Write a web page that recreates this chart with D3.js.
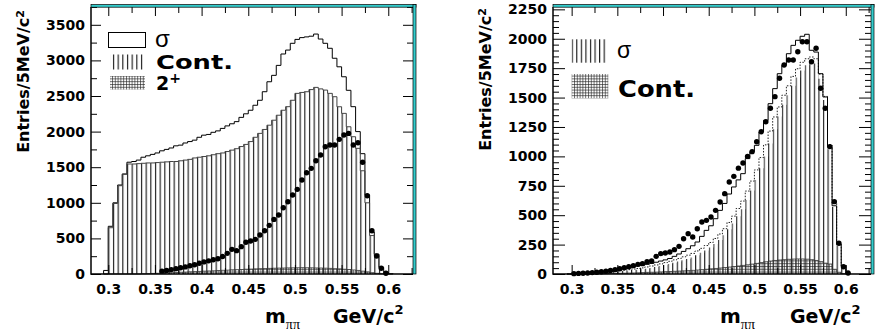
<!DOCTYPE html>
<html>
<head>
<meta charset="utf-8">
<script src="https://cdn.jsdelivr.net/npm/d3@7"></script>
<style>
  body { margin: 0; background: #fff; }
  svg { display: block; }
</style>
</head>
<body>
<div id="chart"></div>
<script>
// lower bin edges, MeV/c^2 (5 MeV bins)
const bins = [295, 300, 305, 310, 315, 320, 325, 330, 335, 340,
              345, 350, 355, 360, 365, 370, 375, 380, 385, 390,
              395, 400, 405, 410, 415, 420, 425, 430, 435, 440,
              445, 450, 455, 460, 465, 470, 475, 480, 485, 490,
              495, 500, 505, 510, 515, 520, 525, 530, 535, 540,
              545, 550, 555, 560, 565, 570, 575, 580, 585, 590,
              595, 600];

// left plot
const leftTotal = [50, 670, 1000, 1250, 1405, 1570, 1580, 1600, 1640, 1660,
                   1680, 1700, 1730, 1750, 1770, 1800, 1810, 1840, 1860, 1880,
                   1920, 1950, 1960, 1990, 2010, 2045, 2080, 2110, 2140, 2200,
                   2250, 2300, 2370, 2440, 2560, 2700, 2790, 2930, 3090, 3145,
                   3240, 3295, 3320, 3330, 3340, 3370, 3300, 3240, 3170, 3030,
                   2910, 2770, 2580, 2350, 2000, 1690, 1110, 590, 280, 95,
                   25, 5];
const leftCont = [0, 650, 990, 1240, 1400, 1545, 1545, 1550, 1555, 1560,
                  1560, 1565, 1570, 1575, 1580, 1580, 1590, 1600, 1610, 1630,
                  1640, 1650, 1660, 1675, 1690, 1700, 1720, 1740, 1760, 1790,
                  1820, 1860, 1920, 1975, 2030, 2090, 2160, 2230, 2300, 2350,
                  2440, 2537, 2550, 2560, 2590, 2621, 2600, 2583, 2537, 2490,
                  2349, 2256, 2068, 1928, 1765, 1450, 1000, 540, 260, 90,
                  20, 5];
const left2p = [0, 0, 0, 0, 0, 0, 0, 0, 3, 5,
                8, 10, 12, 16, 18, 22, 25, 27, 31, 34,
                36, 40, 43, 45, 49, 52, 54, 58, 61, 63,
                67, 69, 72, 75, 76, 79, 81, 83, 84, 86,
                87, 88, 89, 88, 87, 85, 84, 82, 79, 75,
                72, 67, 63, 57, 50, 40, 30, 18, 10, 4,
                1, 0];
const leftData = [null, null, null, null, null, null, null, null, null, null,
                  null, null, 40, 50, 62, 75, 88, 100, 115, 130,
                  150, 170, 185, 200, 215, 245, 290, 346, 328, 384,
                  445, 463, 487, 548, 608, 683, 767, 828, 931, 1015,
                  1109, 1189, 1320, 1423, 1484, 1590, 1671, 1788, 1811, 1811,
                  1891, 1952, 1975, 1811, 1844, 1570, 1100, 608, 253, 80,
                  10, null];

// right plot
const rightTotal = [0, 5, 8, 10, 12, 15, 18, 22, 26, 30,
                    35, 40, 47, 54, 60, 68, 75, 82, 90, 100,
                    110, 120, 132, 150, 170, 192, 215, 240, 272, 320,
                    371, 410, 470, 541, 600, 680, 740, 800, 853, 981,
                    1040, 1094, 1207, 1306, 1448, 1576, 1703, 1774, 1873, 1944,
                    1987, 2021, 2038, 1902, 1887, 1703, 1505, 1080, 580, 250,
                    70, 10];
const rightSigma = [0, 2, 3, 5, 6, 8, 10, 12, 15, 17,
                    20, 22, 26, 29, 33, 36, 40, 45, 52, 60,
                    68, 77, 86, 96, 106, 116, 127, 140, 160, 180,
                    200, 225, 255, 290, 330, 380, 430, 490, 550, 630,
                    710, 800, 900, 1000, 1110, 1230, 1340, 1440, 1520, 1600,
                    1670, 1730, 1775, 1800, 1790, 1660, 1480, 1060, 570, 240,
                    60, 8];
const rightDotted = [0, 2, 4, 6, 8, 10, 12, 15, 18, 21,
                     25, 28, 32, 37, 42, 47, 52, 60, 68, 77,
                     86, 97, 108, 120, 132, 146, 160, 175, 196, 218,
                     242, 268, 302, 340, 385, 438, 492, 557, 620, 705,
                     790, 885, 990, 1098, 1215, 1335, 1420, 1520, 1600, 1680,
                     1745, 1800, 1830, 1845, 1830, 1700, 1510, 1100, 600, 255,
                     64, 8];
const rightCont = [0, 0, 0, 0, 0, 0, 1, 2, 3, 4,
                   5, 6, 7, 8, 9, 10, 12, 14, 15, 16,
                   18, 20, 21, 23, 25, 27, 29, 31, 34, 37,
                   40, 44, 47, 51, 55, 59, 63, 68, 73, 78,
                   84, 90, 97, 104, 110, 115, 119, 122, 125, 127,
                   128, 128, 126, 122, 115, 105, 92, 85, 40, 15,
                   3, 0];
const rightData = [null, 3, 5, 7, 9, 12, 15, 19, 24, 30,
                   37, 45, 54, 62, 71, 82, 88, 105, 110, 150,
                   173, 179, 187, 207, 235, 300, 343, 315, 385, 442,
                   456, 485, 541, 612, 683, 782, 830, 900, 944, 1000,
                   1040, 1125, 1210, 1295, 1409, 1508, 1664, 1777, 1819, 1819,
                   1890, 1975, 1975, 1805, 1919, 1579, 1409, 1083, 615, 261,
                   62, 8];

const xTicks = [0.3, 0.35, 0.4, 0.45, 0.5, 0.55, 0.6];
const xTickLabels = ["0.3", "0.35", "0.4", "0.45", "0.5", "0.55", "0.6"];
const xMinor = [0.325, 0.375, 0.425, 0.475, 0.525, 0.575, 0.625];
const leftYTicks = [0, 500, 1000, 1500, 2000, 2500, 3000, 3500];
const leftYMinor = [250, 750, 1250, 1750, 2250, 2750, 3250, 3750];
const rightYTicks = [0, 250, 500, 750, 1000, 1250, 1500, 1750, 2000, 2250];
const rightYMinor = d3.range(50, 2270, 50).filter(v => v % 250 !== 0);

const W = 876, H = 333;
const yTop = 7, yBot = 274;
const binW = 0.005;

const svg = d3.select("#chart").append("svg").attr("width", W).attr("height", H)
  .attr("font-family", "DejaVu Sans, sans-serif").attr("font-weight", "bold").attr("fill", "#000");
const defs = svg.append("defs");

function drawPanel(p) {
  const x = d3.scaleLinear().domain(p.xDomain).range([p.x0, p.x1]);
  const y = d3.scaleLinear().domain(p.yDomain).range([yBot, yTop]);
  const g = svg.append("g");

  // hatch patterns, aligned with the bins
  const step = x(0.305) - x(0.3);
  const vh = defs.append("pattern").attr("id", p.id + "vh")
    .attr("patternUnits", "userSpaceOnUse")
    .attr("x", x(0.3)).attr("y", 0).attr("width", step).attr("height", 10);
  vh.append("line").attr("x1", 0.6).attr("x2", 0.6).attr("y1", 0).attr("y2", 10)
    .attr("stroke", "#111").attr("stroke-width", 1.1);
  const xh = defs.append("pattern").attr("id", p.id + "xh")
    .attr("patternUnits", "userSpaceOnUse")
    .attr("x", 0).attr("y", 0).attr("width", 2.8).attr("height", 2.8);
  xh.append("path").attr("d", "M0.5,0V2.8M0,0.5H2.8")
    .attr("stroke", "#222").attr("stroke-width", 0.65).attr("fill", "none");

  const pts = vals => {
    const a = vals.map((v, i) => [bins[i] / 1000, v]);
    a.push([bins[bins.length - 1] / 1000 + binW, vals[vals.length - 1]]);
    return a;
  };
  const outline = vals => {
    const a = pts(vals);
    return [[a[0][0], 0], ...a, [a[a.length - 1][0], 0]];
  };
  const line = d3.line().x(d => x(d[0])).y(d => y(d[1])).curve(d3.curveStepAfter);
  const area = d3.area().x(d => x(d[0])).y0(y(0)).y1(d => y(d[1])).curve(d3.curveStepAfter);

  const hist = (vals, fill, stroke, dash, sw) => {
    if (fill) g.append("path").attr("d", area(pts(vals))).attr("fill", fill);
    if (stroke) g.append("path").attr("d", line(outline(vals)))
      .attr("fill", "none").attr("stroke", stroke).attr("stroke-width", sw || 1)
      .attr("stroke-dasharray", dash || null);
  };
  p.draw(hist, "url(#" + p.id + "vh)", "url(#" + p.id + "xh)");

  // data points
  g.append("g").selectAll("circle")
    .data(p.points.map((v, i) => [bins[i] / 1000 + binW / 2, v]).filter(d => d[1] !== null))
    .join("circle")
    .attr("cx", d => x(d[0])).attr("cy", d => y(d[1])).attr("r", 2.7).attr("fill", "#000");

  // axes (ticks inside, mirrored)
  const styleAxis = sel => {
    sel.select(".domain").remove();
    sel.selectAll("line").attr("stroke", "#000");
    sel.attr("font-family", "DejaVu Sans, sans-serif").attr("font-size", 14).attr("font-weight", "bold");
  };
  g.append("g").attr("transform", `translate(${p.x0},0)`)
    .call(d3.axisLeft(y).tickValues(p.yTicks).tickSize(-p.yMajorLen).tickPadding(6).tickFormat(d3.format("d")))
    .call(styleAxis);
  g.append("g").attr("transform", `translate(${p.x0},0)`)
    .call(d3.axisLeft(y).tickValues(p.yMinor).tickSize(-6).tickFormat(""))
    .call(styleAxis);
  g.append("g").attr("transform", `translate(${p.x1},0)`)
    .call(d3.axisRight(y).tickValues(p.yTicks).tickSize(-p.yMajorLen).tickFormat(""))
    .call(styleAxis);
  g.append("g").attr("transform", `translate(${p.x1},0)`)
    .call(d3.axisRight(y).tickValues(p.yMinor).tickSize(-6).tickFormat(""))
    .call(styleAxis);
  g.append("g").attr("transform", `translate(0,${yBot})`)
    .call(d3.axisBottom(x).tickValues(xTicks).tickSize(-9).tickPadding(10).tickFormat((d, i) => xTickLabels[i]))
    .call(styleAxis);
  g.append("g").attr("transform", `translate(0,${yBot})`)
    .call(d3.axisBottom(x).tickValues(xMinor.filter(v => v < p.xDomain[1])).tickSize(-6).tickFormat(""))
    .call(styleAxis);
  g.append("g").attr("transform", `translate(0,${yTop})`)
    .call(d3.axisTop(x).tickValues(xTicks).tickSize(-9).tickFormat(""))
    .call(styleAxis);
  g.append("g").attr("transform", `translate(0,${yTop})`)
    .call(d3.axisTop(x).tickValues(xMinor.filter(v => v < p.xDomain[1])).tickSize(-6).tickFormat(""))
    .call(styleAxis);

  // frame: black left/bottom, cyan bevel top/right
  g.append("path").attr("d", `M${p.x0},${yTop}V${yBot}H${p.x1}`)
    .attr("fill", "none").attr("stroke", "#000").attr("stroke-width", 1.5);
  g.append("rect").attr("x", p.x0).attr("y", 4.6).attr("width", p.x1 - p.x0 + 3).attr("height", 2.6)
    .attr("fill", "#33cccc").attr("stroke", "#000").attr("stroke-width", 0.7);
  g.append("rect").attr("x", p.x1).attr("y", 4.6).attr("width", 3).attr("height", yBot - 4.6)
    .attr("fill", "#33cccc").attr("stroke", "#000").attr("stroke-width", 0.7);

  // y title
  const yt = g.append("text").attr("transform", `translate(${p.yTitleX},${p.yTitleEnd}) rotate(-90)`)
    .attr("text-anchor", "end").attr("font-size", 16);
  yt.append("tspan").text("Entries/5MeV/c");
  yt.append("tspan").attr("dy", "-0.45em").attr("font-size", 11).text("2");

  // x title
  const xt = g.append("text").attr("x", p.mX).attr("y", 323).attr("font-size", 20);
  xt.append("tspan").text("m");
  xt.append("tspan").attr("dy", 6).attr("font-size", 14).attr("font-weight", "normal")
    .attr("font-family", "Liberation Serif, serif").text("ππ");
  const gt = g.append("text").attr("x", p.gevX).attr("y", 323).attr("font-size", 19);
  gt.append("tspan").text("GeV/c");
  gt.append("tspan").attr("dy", -9).attr("font-size", 13).text("2");

  // legend
  p.legend(g);
}

drawPanel({
  id: "L", x0: 91, x1: 413, xDomain: [0.2815, 0.6265], yDomain: [0, 3750],
  yTicks: leftYTicks, yMinor: leftYMinor, yMajorLen: 10,
  points: leftData, yTitleX: 28.5, yTitleEnd: 10, mX: 265, gevX: 333,
  draw: (hist, vh, xh) => {
    hist(leftTotal, null, "#000", null, 1);
    hist(leftCont, vh, "#444", null, 1);
    hist(left2p, xh, "#333", null, 0.8);
  },
  legend: g => {
    g.append("rect").attr("x", 108.5).attr("y", 32.5).attr("width", 37).attr("height", 15)
      .attr("fill", "#fff").attr("stroke", "#000").attr("stroke-width", 1);
    g.append("rect").attr("x", 110).attr("y", 54.5).attr("width", 34).attr("height", 15).attr("fill", "url(#Lvh)");
    g.append("rect").attr("x", 110).attr("y", 76).attr("width", 35).attr("height", 13.5).attr("fill", "url(#Lxh)");
    g.append("text").attr("x", 155).attr("y", 46.5).attr("font-size", 24).attr("font-weight", "normal")
      .attr("font-family", "Liberation Sans, sans-serif").text("σ");
    g.append("text").attr("x", 156).attr("y", 69).attr("font-size", 20)
      .attr("textLength", 77).attr("lengthAdjust", "spacingAndGlyphs").text("Cont.");
    const t = g.append("text").attr("x", 156).attr("y", 89.5).attr("font-size", 19);
    t.append("tspan").text("2");
    t.append("tspan").attr("dy", -7).attr("font-size", 14).text("+");
  }
});

drawPanel({
  id: "R", x0: 553, x1: 871, xDomain: [0.2796, 0.6276], yDomain: [0, 2270],
  yTicks: rightYTicks, yMinor: rightYMinor, yMajorLen: 12,
  points: rightData, yTitleX: 491, yTitleEnd: 8, mX: 720, gevX: 790,
  draw: (hist, vh, xh) => {
    hist(rightSigma, vh, null);
    hist(rightCont, xh, "#333", null, 0.8);
    hist(rightDotted, null, "#222", "1.5,1.5", 1);
    hist(rightTotal, null, "#000", null, 1);
  },
  legend: g => {
    g.append("rect").attr("x", 571.7).attr("y", 39.3).attr("width", 35).attr("height", 23.4).attr("fill", "url(#Rvh)");
    g.append("rect").attr("x", 571.7).attr("y", 74).attr("width", 36.6).attr("height", 24.3).attr("fill", "url(#Rxh)");
    g.append("text").attr("x", 617).attr("y", 57.5).attr("font-size", 23).attr("font-weight", "normal")
      .attr("font-family", "Liberation Sans, sans-serif").text("σ");
    g.append("text").attr("x", 618).attr("y", 97).attr("font-size", 23)
      .attr("textLength", 77).attr("lengthAdjust", "spacingAndGlyphs").text("Cont.");
  }
});
</script>
</body>
</html>
